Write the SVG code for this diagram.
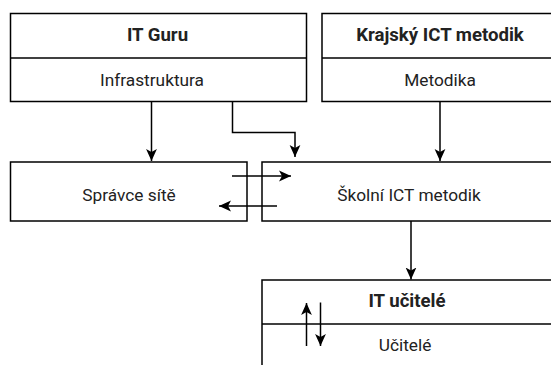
<svg xmlns="http://www.w3.org/2000/svg" width="551" height="365" viewBox="0 0 551 365">
<style>
.box{fill:#fff;stroke:#000;stroke-width:1.5}
.div{stroke:#000;stroke-width:1.5;fill:none}
.t{font-family:Roboto,"Liberation Sans",sans-serif;font-size:17.3px;fill:#222;text-anchor:middle}
.b{font-weight:bold;font-size:18.6px}
.c{fill:none;stroke:#000;stroke-width:1.5}
</style>
<defs>
<marker id="ah" viewBox="0 0 10 10" refX="10" refY="5" markerWidth="12" markerHeight="12" markerUnits="userSpaceOnUse" orient="auto">
<path d="M0,0.5 L10,5 L0,9.5 L2.5,5 Z" fill="#000"/>
</marker>
</defs>
<rect width="551" height="365" fill="#fff"/>
<g id="itguru">
<rect class="box" x="10.5" y="13.5" width="296" height="88"/>
<line class="div" x1="10.5" y1="58" x2="306.5" y2="58"/>
<text class="t b" x="157.5" y="41">IT Guru</text>
<text class="t" x="152" y="86">Infrastruktura</text>
</g>
<g id="krajsky">
<rect class="box" x="322" y="13.5" width="236" height="88"/>
<line class="div" x1="322" y1="58" x2="558" y2="58"/>
<text class="t b" x="440" y="41">Krajský ICT metodik</text>
<text class="t" x="440" y="86">Metodika</text>
</g>
<g id="spravce">
<rect class="box" x="10.5" y="162" width="236.5" height="59"/>
<text class="t" x="129" y="201">Správce sítě</text>
</g>
<g id="skolni">
<rect class="box" x="262" y="162" width="296" height="59"/>
<text class="t" x="409" y="201">Školní ICT metodik</text>
</g>
<g id="itucitele">
<rect class="box" x="262" y="280" width="296" height="100"/>
<line class="div" x1="262" y1="324" x2="558" y2="324"/>
<text class="t b" x="407" y="307">IT učitelé</text>
<text class="t" x="405" y="351">Učitelé</text>
</g>
<g id="connectors">
<path class="c" d="M151.5,101.5 V161" marker-end="url(#ah)"/>
<path class="c" d="M232.5,101.5 V132.5 H295 V157" marker-end="url(#ah)"/>
<path class="c" d="M440,101.5 V161" marker-end="url(#ah)"/>
<path class="c" d="M232,176 H291" marker-end="url(#ah)"/>
<path class="c" d="M277,206 H219" marker-end="url(#ah)"/>
<path class="c" d="M411,221 V279.5" marker-end="url(#ah)"/>
<path class="c" d="M306.5,346 V303" marker-end="url(#ah)"/>
<path class="c" d="M320.5,302.5 V346" marker-end="url(#ah)"/>
</g>
</svg>
